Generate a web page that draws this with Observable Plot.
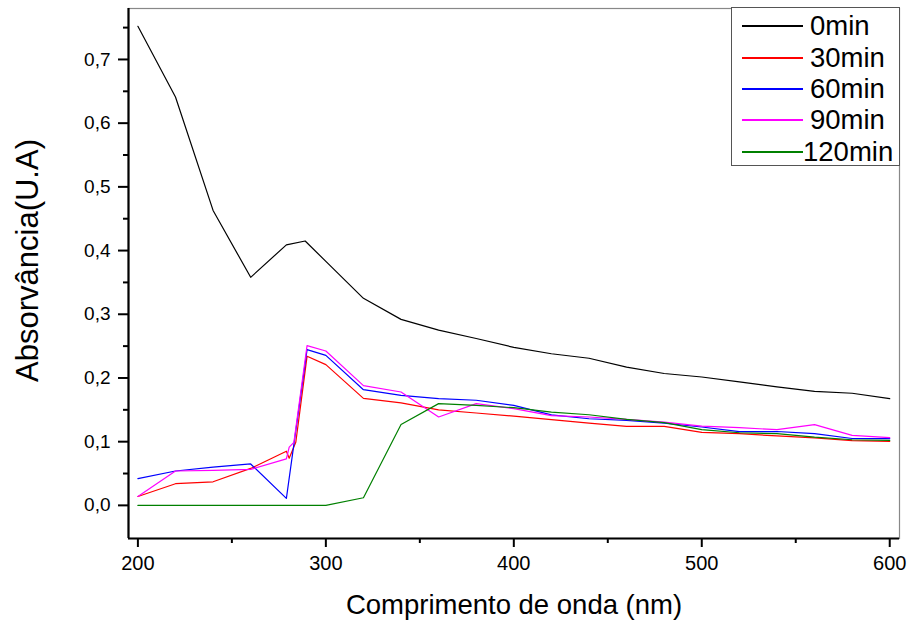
<!DOCTYPE html>
<html>
<head>
<meta charset="utf-8">
<script src="https://cdn.jsdelivr.net/npm/d3@7"></script>
<script src="https://cdn.jsdelivr.net/npm/@observablehq/plot@0.6"></script>
<style>
  html, body { margin: 0; padding: 0; background: #fff; }
  #wrap { position: relative; width: 912px; height: 625px; font-family: Arial, "Liberation Sans", sans-serif; }
  #legend { position: absolute; left: 731px; top: 7px; width: 169px; height: 159px; border: 1px solid #555; background: #fff; box-sizing: border-box; }
  .row { position: absolute; left: 0; height: 31px; width: 168px; }
  .row .sw { position: absolute; left: 10px; top: 15px; width: 61px; height: 2px; }
  .row .lb { position: absolute; left: 78px; top: 0; font-size: 27.5px; line-height: 31px; color: #000; white-space: nowrap; }
</style>
</head>
<body>
<div id="wrap"></div>
<script>
// ---- data ----
const seriesNames = ["0min", "30min", "60min", "90min", "120min"];
const seriesColors = ["#000000", "#ff0000", "#0000ff", "#ff00ff", "#008000"];

const wl0 = [200,220,240,260,279,289,300,320,340,360,380,400,420,440,460,480,500,520,540,560,580,600];
const abs0 = [0.752,0.641,0.463,0.358,0.409,0.415,0.383,0.325,0.292,0.275,0.262,0.248,0.238,0.231,0.217,0.207,0.2015,0.194,0.186,0.179,0.176,0.1675];

const wl30 = [200,220,240,260,279,280.5,284,290,300,320,340,360,380,400,420,440,460,480,500,520,540,560,580,600];
const abs30 = [0.014,0.034,0.037,0.058,0.085,0.074,0.099,0.234,0.221,0.168,0.161,0.150,0.145,0.140,0.1345,0.129,0.124,0.124,0.1146,0.1125,0.109,0.106,0.1015,0.1005];

const wl60 = [200,220,240,260,279,290,300,320,340,360,380,400,420,440,460,480,500,520,540,560,580,600];
const abs60 = [0.042,0.054,0.060,0.065,0.011,0.2445,0.2355,0.1816,0.1727,0.1675,0.165,0.157,0.142,0.136,0.1334,0.129,0.123,0.1157,0.116,0.1125,0.105,0.1047];

const wl90 = [200,220,240,260,279,280.5,283,290,300,320,340,360,380,400,420,440,460,480,500,520,540,560,580,600];
const abs90 = [0.014,0.054,0.055,0.0565,0.073,0.0915,0.099,0.2507,0.2423,0.188,0.178,0.1387,0.1597,0.1518,0.141,0.1387,0.135,0.1308,0.1245,0.122,0.1188,0.1267,0.11,0.1063];

const wl120 = [200,220,240,260,280,300,320,340,360,380,400,420,440,460,480,500,520,540,560,580,600];
const abs120 = [0,0,0,0,0,0,0.012,0.127,0.1597,0.157,0.1533,0.1465,0.1423,0.135,0.1298,0.1188,0.114,0.1125,0.107,0.103,0.102];

const xMajorTicks = [200, 300, 400, 500, 600];
const xMinorTicks = [250, 350, 450, 550];
const yMajorTicks = [0, 0.1, 0.2, 0.3, 0.4, 0.5, 0.6, 0.7];
const yMinorTicks = [0.05, 0.15, 0.25, 0.35, 0.45, 0.55, 0.65, 0.75];
const xDomain = [195, 605.2];
const yDomain = [-0.052, 0.78];
const xTitle = "Comprimento de onda (nm)";
const yTitle = "Absorvância(U.A)";

// ---- build table ----
const wls = [wl0, wl30, wl60, wl90, wl120];
const absv = [abs0, abs30, abs60, abs90, abs120];
const rows = seriesNames.flatMap((s, i) => wls[i].map((w, j) => ({series: s, wl: w, abs: absv[i][j]})));

const fmtY = d => d.toFixed(1).replace(".", ",");

const chart = Plot.plot({
  width: 912,
  height: 625,
  marginLeft: 128,
  marginRight: 13,
  marginTop: 8,
  marginBottom: 87,
  style: {fontFamily: "Arial, 'Liberation Sans', sans-serif", background: "#fff", color: "#000"},
  x: {domain: xDomain},
  y: {domain: yDomain},
  color: {domain: seriesNames, range: seriesColors},
  marks: [
    Plot.frame({stroke: "#888", strokeWidth: 1.2}),
    Plot.axisX({ticks: xMajorTicks, tickSize: 9, tickPadding: 8, tickFormat: d => String(d), fontSize: 20, stroke: "#000", strokeWidth: 2, fill: "#000", label: null}),
    Plot.axisX({ticks: xMinorTicks, tickSize: 5, tickFormat: () => "", stroke: "#000", strokeWidth: 2, label: null}),
    Plot.axisY({ticks: yMajorTicks, tickSize: 10, tickPadding: 8, tickFormat: fmtY, fontSize: 19, stroke: "#000", strokeWidth: 2, fill: "#000", label: null}),
    Plot.axisY({ticks: yMinorTicks, tickSize: 5, tickFormat: () => "", stroke: "#000", strokeWidth: 2, label: null}),
    Plot.ruleX([xDomain[0]], {stroke: "#000", strokeWidth: 2.2}),
    Plot.ruleY([yDomain[0]], {stroke: "#000", strokeWidth: 2.2}),
    Plot.line(rows, {x: "wl", y: "abs", z: "series", stroke: "series", strokeWidth: 1.2}),
    Plot.text([xTitle], {frameAnchor: "bottom", dy: 67, fontSize: 27.5, fill: "#000", lineAnchor: "middle"}),
    Plot.text([yTitle], {frameAnchor: "left", textAnchor: "middle", dx: -100, dy: -13, rotate: -90, fontSize: 31, fill: "#000", lineAnchor: "middle"})
  ]
});

const wrap = document.getElementById("wrap");
wrap.appendChild(chart);

// legend overlay
const legend = document.createElement("div");
legend.id = "legend";
const rowTops = [2, 34, 65, 96, 128];
seriesNames.forEach((s, i) => {
  const r = document.createElement("div");
  r.className = "row";
  r.style.top = rowTops[i] + "px";
  const sw = document.createElement("div");
  sw.className = "sw";
  sw.style.background = seriesColors[i];
  const lb = document.createElement("div");
  lb.className = "lb";
  lb.textContent = s;
  if (s === "120min") lb.style.left = "71px";
  r.appendChild(sw); r.appendChild(lb);
  legend.appendChild(r);
});
wrap.appendChild(legend);
</script>
</body>
</html>
